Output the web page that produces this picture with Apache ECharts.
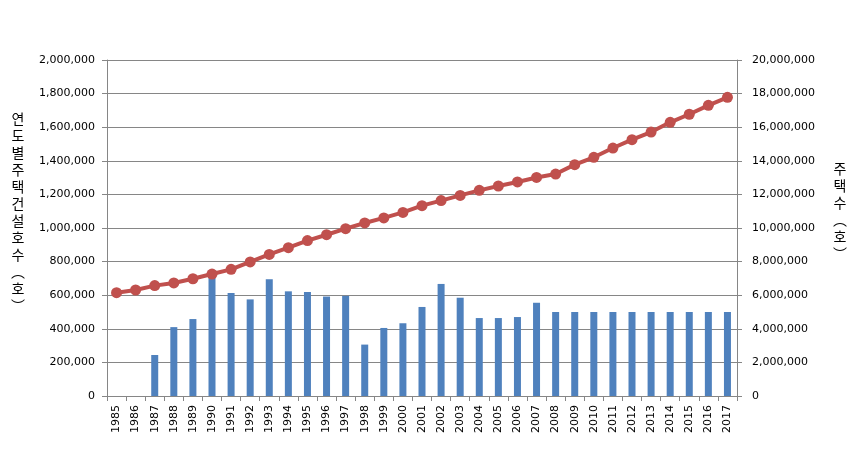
<!DOCTYPE html>
<html>
<head>
<meta charset="utf-8">
<script src="https://cdn.jsdelivr.net/npm/echarts@6/dist/echarts.min.js"></script>
<style>html,body{margin:0;padding:0;background:#fff;}#c{width:859px;height:451px;}</style>
</head>
<body>
<div id="c"></div>
<script>
const years = ['1985','1986','1987','1988','1989','1990','1991','1992','1993','1994','1995','1996','1997','1998','1999','2000','2001','2002','2003','2004','2005','2006','2007','2008','2009','2010','2011','2012','2013','2014','2015','2016','2017'];
const construction = [null,null,244000,410000,458000,750000,613000,575000,695000,623000,619000,592000,596000,306000,405000,433000,530000,667000,585000,464000,464000,470000,555000,500000,500000,500000,500000,500000,500000,500000,500000,500000,500000];
const housingStock = [6150000,6310000,6570000,6730000,6980000,7260000,7540000,7980000,8430000,8830000,9250000,9600000,9960000,10300000,10600000,10930000,11330000,11630000,11940000,12240000,12500000,12740000,13010000,13210000,13770000,14210000,14760000,15260000,15710000,16290000,16770000,17300000,17780000];
const leftTitle = '연도별주택건설호수︵호︶';
const rightTitle = '주택수︵호︶';

const fmt = v => v.toString().replace(/\B(?=(\d{3})+(?!\d))/g, ',');
const axisGray = '#868686';
const labelFont = {fontFamily: 'DejaVu Sans', fontSize: 11, color: '#000'};

const chart = echarts.init(document.getElementById('c'));
chart.setOption({
  animation: false,
  grid: {left: 107, right: 122, top: 60, bottom: 55},
  xAxis: {
    type: 'category',
    data: years,
    boundaryGap: true,
    axisLine: {lineStyle: {color: axisGray}},
    axisTick: {show: true, length: 5, interval: 0, lineStyle: {color: axisGray}},
    axisLabel: Object.assign({rotate: 90, interval: 0, margin: 9}, labelFont)
  },
  yAxis: [
    {
      type: 'value', min: 0, max: 2000000, interval: 200000,
      axisLine: {show: true, lineStyle: {color: axisGray}},
      axisTick: {show: true, length: 5, lineStyle: {color: axisGray}},
      splitLine: {show: true, lineStyle: {color: axisGray, width: 1}},
      axisLabel: Object.assign({formatter: fmt, margin: 12}, labelFont)
    },
    {
      type: 'value', min: 0, max: 20000000, interval: 2000000,
      axisLine: {show: true, lineStyle: {color: axisGray}},
      axisTick: {show: true, length: 5, lineStyle: {color: axisGray}},
      splitLine: {show: false},
      axisLabel: Object.assign({formatter: fmt, margin: 15}, labelFont)
    }
  ],
  series: [
    {
      type: 'bar', yAxisIndex: 0, data: construction, barWidth: 7,
      itemStyle: {color: '#4F81BD'}
    },
    {
      type: 'line', yAxisIndex: 1, data: housingStock,
      symbol: 'circle', symbolSize: 11,
      lineStyle: {color: '#C0504D', width: 4},
      itemStyle: {color: '#C0504D'}
    }
  ],
  graphic: [
    {
      type: 'text', x: 18, y: 110,
      style: {
        text: leftTitle.split('').join('\n'),
        fontFamily: 'Noto Sans CJK KR', fontSize: 14, lineHeight: 17,
        fill: '#000', align: 'center', verticalAlign: 'top'
      }
    },
    {
      type: 'text', x: 840, y: 160,
      style: {
        text: rightTitle.split('').join('\n'),
        fontFamily: 'Noto Sans CJK KR', fontSize: 14, lineHeight: 17,
        fill: '#000', align: 'center', verticalAlign: 'top'
      }
    }
  ]
});
</script>
</body>
</html>
